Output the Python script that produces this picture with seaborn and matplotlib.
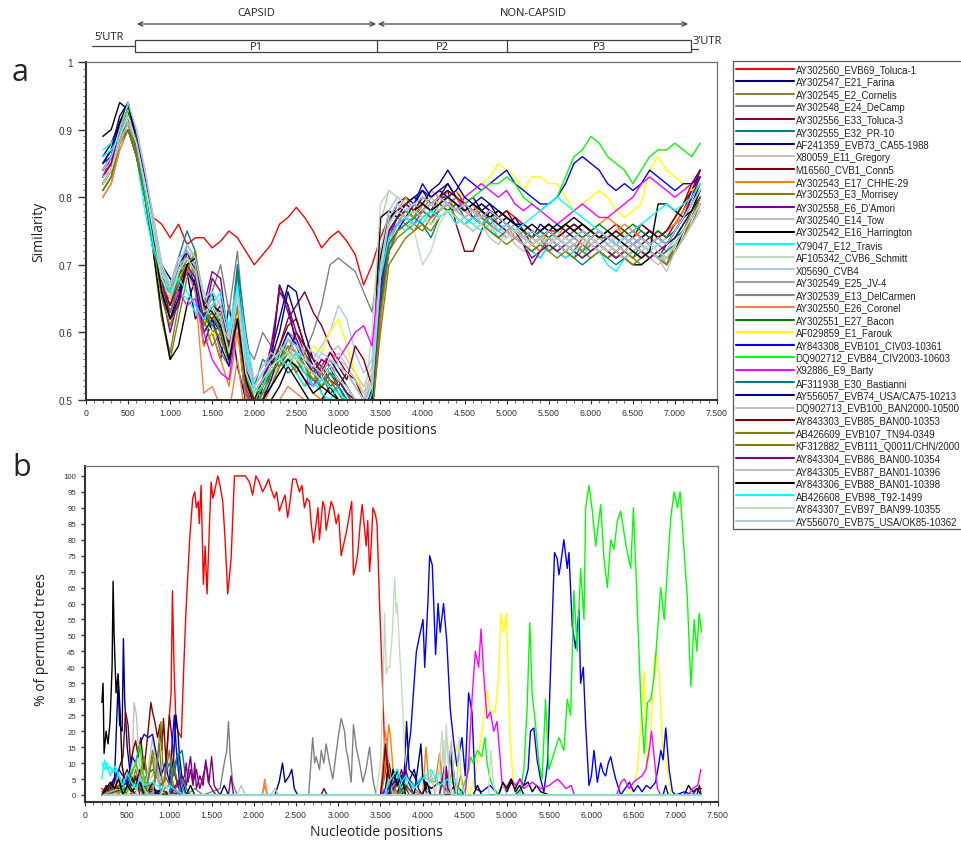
import pandas as pd
import matplotlib
matplotlib.use('Agg')
import matplotlib.pyplot as plt
from matplotlib.lines import Line2D
from matplotlib.patches import Rectangle
from matplotlib.ticker import MultipleLocator, FuncFormatter
import seaborn as sns

# Strains (legend order) and their line colours
strains = [
    'AY302560_EVB69_Toluca-1', 'AY302547_E21_Farina', 'AY302545_E2_Cornelis',
    'AY302548_E24_DeCamp', 'AY302556_E33_Toluca-3', 'AY302555_E32_PR-10',
    'AF241359_EVB73_CA55-1988', 'X80059_E11_Gregory', 'M16560_CVB1_Conn5',
    'AY302543_E17_CHHE-29', 'AY302553_E3_Morrisey', "AY302558_E6_D'Amori",
    'AY302540_E14_Tow', 'AY302542_E16_Harrington', 'X79047_E12_Travis',
    'AF105342_CVB6_Schmitt', 'X05690_CVB4', 'AY302549_E25_JV-4',
    'AY302539_E13_DelCarmen', 'AY302550_E26_Coronel', 'AY302551_E27_Bacon',
    'AF029859_E1_Farouk', 'AY843308_EVB101_CIV03-10361', 'DQ902712_EVB84_CIV2003-10603',
    'X92886_E9_Barty', 'AF311938_E30_Bastianni', 'AY556057_EVB74_USA/CA75-10213',
    'DQ902713_EVB100_BAN2000-10500', 'AY843303_EVB85_BAN00-10353', 'AB426609_EVB107_TN94-0349',
    'KF312882_EVB111_Q0011/CHN/2000', 'AY843304_EVB86_BAN00-10354', 'AY843305_EVB87_BAN01-10396',
    'AY843306_EVB88_BAN01-10398', 'AB426608_EVB98_T92-1499', 'AY843307_EVB97_BAN99-10355',
    'AY556070_EVB75_USA/OK85-10362',
]
colors = [
    '#ff0000', '#000080', '#808040', '#808080', '#800040', '#008080', '#000090',
    '#c0c0c0', '#800000', '#ff8000', '#808000', '#800080', '#c0c0c0', '#000000',
    '#00ffff', '#c0dcc0', '#a6caf0', '#a0a0a4', '#808080', '#f08050', '#008000',
    '#ffff00', '#0000ff', '#00ff00', '#ff00ff', '#008080', '#000080', '#c0c0c0',
    '#800000', '#808000', '#808000', '#800080', '#c0c0c0', '#000000', '#00ffff',
    '#c0dcc0', '#a6caf0',
]

# (a) similarity plot, window centres every 100 nt
positions_a = list(range(200, 7301, 100))
similarity = [
    [0.83, 0.86, 0.91, 0.93, 0.88, 0.83, 0.77, 0.76, 0.74, 0.76,
     0.73, 0.74, 0.74, 0.725, 0.735, 0.75, 0.74, 0.72, 0.70, 0.715,
     0.73, 0.76, 0.77, 0.785, 0.77, 0.75, 0.725, 0.74, 0.75, 0.735,
     0.715, 0.67, 0.70, 0.74, 0.77, 0.78, 0.79, 0.78, 0.79, 0.80,
     0.79, 0.80, 0.81, 0.79, 0.78, 0.79, 0.78, 0.77, 0.78, 0.77,
     0.76, 0.75, 0.74, 0.75, 0.75, 0.74, 0.75, 0.76, 0.75, 0.74,
     0.74, 0.73, 0.74, 0.75, 0.74, 0.75, 0.74, 0.75, 0.76, 0.77,
     0.79, 0.81],
    [0.85, 0.87, 0.91, 0.93, 0.88, 0.82, 0.75, 0.66, 0.65, 0.70,
     0.69, 0.62, 0.64, 0.60, 0.56, 0.64, 0.55, 0.50, 0.49, 0.52,
     0.55, 0.67, 0.64, 0.58, 0.55, 0.54, 0.53, 0.55, 0.52, 0.50,
     0.48, 0.47, 0.52, 0.70, 0.76, 0.78, 0.79, 0.80, 0.81, 0.79,
     0.80, 0.82, 0.80, 0.79, 0.78, 0.79, 0.78, 0.77, 0.76, 0.75,
     0.74, 0.75, 0.74, 0.73, 0.74, 0.73, 0.74, 0.73, 0.74, 0.75,
     0.74, 0.73, 0.74, 0.73, 0.74, 0.75, 0.74, 0.73, 0.75, 0.77,
     0.79, 0.82],
    [0.82, 0.84, 0.89, 0.91, 0.87, 0.80, 0.72, 0.62, 0.57, 0.64,
     0.70, 0.66, 0.60, 0.62, 0.57, 0.55, 0.63, 0.53, 0.49, 0.51,
     0.53, 0.56, 0.58, 0.54, 0.52, 0.55, 0.51, 0.49, 0.50, 0.48,
     0.47, 0.48, 0.50, 0.66, 0.73, 0.75, 0.76, 0.75, 0.77, 0.76,
     0.78, 0.79, 0.78, 0.77, 0.78, 0.76, 0.77, 0.76, 0.75, 0.74,
     0.73, 0.72, 0.73, 0.74, 0.73, 0.72, 0.73, 0.72, 0.74, 0.73,
     0.72, 0.71, 0.72, 0.73, 0.72, 0.71, 0.72, 0.70, 0.72, 0.74,
     0.77, 0.80],
    [0.84, 0.86, 0.90, 0.93, 0.89, 0.83, 0.76, 0.68, 0.66, 0.71,
     0.72, 0.68, 0.62, 0.66, 0.70, 0.63, 0.72, 0.58, 0.56, 0.60,
     0.58, 0.57, 0.60, 0.59, 0.57, 0.60, 0.64, 0.70, 0.71, 0.70,
     0.69, 0.66, 0.63, 0.72, 0.77, 0.78, 0.77, 0.79, 0.78, 0.80,
     0.79, 0.81, 0.80, 0.78, 0.79, 0.77, 0.78, 0.76, 0.77, 0.76,
     0.75, 0.74, 0.75, 0.74, 0.73, 0.74, 0.75, 0.74, 0.73, 0.74,
     0.75, 0.74, 0.73, 0.74, 0.75, 0.74, 0.73, 0.72, 0.74, 0.76,
     0.78, 0.80],
    [0.83, 0.85, 0.90, 0.92, 0.87, 0.81, 0.74, 0.67, 0.64, 0.68,
     0.71, 0.69, 0.63, 0.61, 0.62, 0.57, 0.66, 0.52, 0.50, 0.52,
     0.55, 0.58, 0.62, 0.64, 0.66, 0.63, 0.61, 0.58, 0.56, 0.54,
     0.52, 0.50, 0.52, 0.68, 0.75, 0.77, 0.78, 0.77, 0.79, 0.78,
     0.80, 0.80, 0.79, 0.78, 0.79, 0.78, 0.77, 0.78, 0.77, 0.76,
     0.75, 0.73, 0.74, 0.75, 0.74, 0.73, 0.72, 0.74, 0.73, 0.74,
     0.73, 0.72, 0.73, 0.74, 0.73, 0.74, 0.75, 0.74, 0.76, 0.78,
     0.81, 0.84],
    [0.84, 0.86, 0.89, 0.92, 0.88, 0.82, 0.75, 0.68, 0.67, 0.71,
     0.75, 0.72, 0.62, 0.60, 0.61, 0.58, 0.70, 0.60, 0.52, 0.56,
     0.55, 0.56, 0.54, 0.55, 0.53, 0.52, 0.54, 0.51, 0.52, 0.50,
     0.49, 0.47, 0.48, 0.64, 0.74, 0.76, 0.77, 0.76, 0.78, 0.77,
     0.79, 0.78, 0.79, 0.77, 0.78, 0.77, 0.76, 0.75, 0.76, 0.75,
     0.74, 0.73, 0.74, 0.72, 0.73, 0.72, 0.71, 0.73, 0.72, 0.73,
     0.72, 0.71, 0.72, 0.71, 0.73, 0.72, 0.71, 0.72, 0.74, 0.75,
     0.77, 0.80],
    [0.86, 0.88, 0.91, 0.94, 0.89, 0.83, 0.76, 0.70, 0.68, 0.66,
     0.70, 0.67, 0.58, 0.62, 0.60, 0.55, 0.62, 0.49, 0.47, 0.52,
     0.57, 0.62, 0.67, 0.66, 0.60, 0.56, 0.54, 0.52, 0.53, 0.51,
     0.49, 0.48, 0.50, 0.69, 0.76, 0.79, 0.80, 0.79, 0.81, 0.80,
     0.81, 0.82, 0.80, 0.79, 0.80, 0.78, 0.79, 0.77, 0.76, 0.77,
     0.75, 0.74, 0.76, 0.75, 0.74, 0.75, 0.76, 0.75, 0.74, 0.75,
     0.74, 0.75, 0.74, 0.73, 0.74, 0.75, 0.74, 0.73, 0.75, 0.77,
     0.79, 0.81],
    [0.84, 0.85, 0.88, 0.92, 0.90, 0.84, 0.77, 0.70, 0.66, 0.69,
     0.72, 0.70, 0.64, 0.63, 0.60, 0.58, 0.66, 0.56, 0.52, 0.54,
     0.56, 0.57, 0.58, 0.56, 0.58, 0.56, 0.55, 0.57, 0.58, 0.56,
     0.54, 0.52, 0.55, 0.76, 0.81, 0.80, 0.79, 0.78, 0.79, 0.80,
     0.79, 0.78, 0.80, 0.79, 0.77, 0.78, 0.76, 0.77, 0.76, 0.75,
     0.74, 0.75, 0.74, 0.73, 0.75, 0.74, 0.73, 0.74, 0.73, 0.74,
     0.75, 0.73, 0.74, 0.73, 0.72, 0.73, 0.72, 0.71, 0.73, 0.75,
     0.77, 0.79],
    [0.83, 0.85, 0.89, 0.92, 0.87, 0.81, 0.74, 0.66, 0.65, 0.69,
     0.70, 0.68, 0.61, 0.64, 0.63, 0.57, 0.63, 0.51, 0.48, 0.50,
     0.54, 0.56, 0.57, 0.60, 0.58, 0.56, 0.55, 0.53, 0.52, 0.54,
     0.53, 0.50, 0.52, 0.70, 0.78, 0.77, 0.79, 0.78, 0.80, 0.79,
     0.80, 0.81, 0.76, 0.72, 0.72, 0.75, 0.78, 0.77, 0.78, 0.76,
     0.75, 0.74, 0.75, 0.76, 0.75, 0.76, 0.75, 0.76, 0.75, 0.74,
     0.75, 0.76, 0.75, 0.74, 0.76, 0.75, 0.74, 0.75, 0.77, 0.79,
     0.81, 0.83],
    [0.80, 0.82, 0.87, 0.90, 0.86, 0.80, 0.73, 0.67, 0.65, 0.68,
     0.70, 0.66, 0.58, 0.60, 0.56, 0.52, 0.60, 0.50, 0.47, 0.49,
     0.52, 0.55, 0.57, 0.55, 0.53, 0.51, 0.50, 0.52, 0.50, 0.49,
     0.48, 0.46, 0.49, 0.66, 0.76, 0.78, 0.80, 0.78, 0.79, 0.81,
     0.80, 0.79, 0.80, 0.78, 0.79, 0.77, 0.76, 0.75, 0.76, 0.74,
     0.75, 0.74, 0.73, 0.75, 0.74, 0.76, 0.75, 0.74, 0.75, 0.76,
     0.77, 0.76, 0.74, 0.75, 0.74, 0.73, 0.74, 0.75, 0.76, 0.78,
     0.80, 0.82],
    [0.81, 0.83, 0.88, 0.91, 0.86, 0.80, 0.72, 0.62, 0.56, 0.62,
     0.68, 0.70, 0.62, 0.58, 0.60, 0.55, 0.64, 0.52, 0.49, 0.51,
     0.53, 0.55, 0.58, 0.57, 0.55, 0.52, 0.53, 0.54, 0.52, 0.50,
     0.49, 0.47, 0.48, 0.62, 0.72, 0.74, 0.75, 0.76, 0.75, 0.77,
     0.78, 0.79, 0.77, 0.76, 0.77, 0.76, 0.75, 0.74, 0.75, 0.74,
     0.73, 0.72, 0.71, 0.73, 0.72, 0.71, 0.72, 0.71, 0.72, 0.73,
     0.72, 0.71, 0.72, 0.71, 0.70, 0.71, 0.72, 0.70, 0.72, 0.74,
     0.77, 0.80],
    [0.82, 0.84, 0.90, 0.93, 0.88, 0.82, 0.75, 0.66, 0.60, 0.65,
     0.72, 0.70, 0.64, 0.69, 0.68, 0.58, 0.64, 0.53, 0.50, 0.53,
     0.58, 0.66, 0.64, 0.60, 0.57, 0.55, 0.53, 0.55, 0.52, 0.50,
     0.48, 0.46, 0.49, 0.65, 0.74, 0.77, 0.78, 0.77, 0.79, 0.78,
     0.80, 0.79, 0.78, 0.79, 0.78, 0.77, 0.78, 0.77, 0.76, 0.75,
     0.73, 0.71, 0.72, 0.74, 0.73, 0.72, 0.73, 0.72, 0.73, 0.72,
     0.71, 0.72, 0.73, 0.72, 0.73, 0.72, 0.71, 0.73, 0.75, 0.77,
     0.80, 0.84],
    [0.83, 0.85, 0.89, 0.93, 0.89, 0.83, 0.76, 0.69, 0.66, 0.70,
     0.71, 0.69, 0.63, 0.64, 0.62, 0.59, 0.67, 0.55, 0.51, 0.53,
     0.55, 0.54, 0.56, 0.57, 0.55, 0.53, 0.55, 0.54, 0.56, 0.55,
     0.53, 0.51, 0.54, 0.72, 0.78, 0.77, 0.78, 0.79, 0.78, 0.77,
     0.78, 0.79, 0.78, 0.77, 0.76, 0.77, 0.75, 0.76, 0.74, 0.75,
     0.74, 0.73, 0.74, 0.75, 0.74, 0.73, 0.74, 0.73, 0.72, 0.73,
     0.74, 0.73, 0.72, 0.73, 0.72, 0.71, 0.72, 0.70, 0.72, 0.74,
     0.76, 0.78],
    [0.89, 0.90, 0.94, 0.93, 0.87, 0.80, 0.72, 0.63, 0.56, 0.58,
     0.64, 0.68, 0.64, 0.66, 0.60, 0.55, 0.63, 0.57, 0.48, 0.47,
     0.50, 0.52, 0.55, 0.53, 0.51, 0.49, 0.50, 0.52, 0.50, 0.48,
     0.46, 0.45, 0.52, 0.77, 0.78, 0.77, 0.78, 0.77, 0.79, 0.78,
     0.79, 0.80, 0.79, 0.78, 0.77, 0.78, 0.77, 0.76, 0.77, 0.76,
     0.75, 0.74, 0.75, 0.76, 0.75, 0.76, 0.77, 0.76, 0.75, 0.74,
     0.73, 0.72, 0.71, 0.70, 0.70, 0.71, 0.72, 0.71, 0.72, 0.75,
     0.77, 0.79],
    [0.87, 0.88, 0.90, 0.91, 0.86, 0.78, 0.72, 0.69, 0.67, 0.66,
     0.65, 0.63, 0.62, 0.66, 0.64, 0.61, 0.66, 0.58, 0.52, 0.50,
     0.53, 0.55, 0.57, 0.54, 0.52, 0.53, 0.51, 0.50, 0.52, 0.49,
     0.48, 0.47, 0.50, 0.67, 0.74, 0.76, 0.75, 0.77, 0.76, 0.78,
     0.77, 0.78, 0.76, 0.77, 0.76, 0.75, 0.76, 0.74, 0.75, 0.74,
     0.73, 0.72, 0.71, 0.73, 0.72, 0.71, 0.72, 0.71, 0.73, 0.72,
     0.70, 0.69, 0.71, 0.72, 0.71, 0.72, 0.73, 0.74, 0.75, 0.77,
     0.79, 0.81],
    [0.82, 0.84, 0.88, 0.92, 0.88, 0.82, 0.75, 0.68, 0.65, 0.69,
     0.70, 0.68, 0.62, 0.63, 0.61, 0.56, 0.64, 0.53, 0.50, 0.52,
     0.54, 0.55, 0.56, 0.55, 0.54, 0.53, 0.52, 0.54, 0.52, 0.51,
     0.50, 0.49, 0.60, 0.79, 0.81, 0.80, 0.79, 0.75, 0.70, 0.72,
     0.76, 0.78, 0.79, 0.78, 0.77, 0.76, 0.75, 0.74, 0.75, 0.74,
     0.73, 0.74, 0.73, 0.72, 0.73, 0.74, 0.73, 0.72, 0.73, 0.74,
     0.73, 0.72, 0.73, 0.72, 0.73, 0.72, 0.71, 0.72, 0.74, 0.76,
     0.78, 0.80],
    [0.84, 0.86, 0.90, 0.93, 0.90, 0.84, 0.77, 0.70, 0.67, 0.70,
     0.72, 0.71, 0.66, 0.63, 0.65, 0.60, 0.68, 0.59, 0.53, 0.55,
     0.56, 0.58, 0.57, 0.59, 0.57, 0.56, 0.58, 0.60, 0.64, 0.62,
     0.57, 0.54, 0.56, 0.70, 0.77, 0.78, 0.77, 0.78, 0.79, 0.78,
     0.79, 0.80, 0.79, 0.78, 0.77, 0.78, 0.77, 0.76, 0.75, 0.76,
     0.75, 0.74, 0.75, 0.74, 0.75, 0.74, 0.73, 0.74, 0.75, 0.74,
     0.73, 0.74, 0.73, 0.74, 0.73, 0.72, 0.73, 0.74, 0.75, 0.77,
     0.79, 0.81],
    [0.83, 0.85, 0.89, 0.92, 0.89, 0.82, 0.75, 0.68, 0.65, 0.69,
     0.71, 0.70, 0.63, 0.65, 0.62, 0.57, 0.65, 0.56, 0.51, 0.53,
     0.55, 0.57, 0.59, 0.57, 0.55, 0.54, 0.56, 0.55, 0.54, 0.52,
     0.50, 0.49, 0.51, 0.69, 0.76, 0.78, 0.79, 0.78, 0.79, 0.80,
     0.79, 0.78, 0.79, 0.78, 0.77, 0.76, 0.77, 0.76, 0.75, 0.76,
     0.74, 0.73, 0.74, 0.73, 0.74, 0.73, 0.74, 0.73, 0.72, 0.73,
     0.72, 0.73, 0.72, 0.73, 0.72, 0.71, 0.72, 0.71, 0.73, 0.75,
     0.77, 0.79],
    [0.82, 0.84, 0.89, 0.92, 0.88, 0.81, 0.74, 0.67, 0.64, 0.68,
     0.70, 0.68, 0.61, 0.63, 0.60, 0.56, 0.64, 0.53, 0.50, 0.52,
     0.54, 0.56, 0.57, 0.56, 0.54, 0.52, 0.54, 0.53, 0.51, 0.50,
     0.48, 0.47, 0.50, 0.68, 0.75, 0.77, 0.76, 0.77, 0.78, 0.77,
     0.78, 0.79, 0.80, 0.78, 0.77, 0.78, 0.76, 0.75, 0.76, 0.75,
     0.74, 0.73, 0.72, 0.74, 0.73, 0.72, 0.73, 0.72, 0.73, 0.72,
     0.71, 0.72, 0.71, 0.72, 0.71, 0.72, 0.71, 0.70, 0.72, 0.74,
     0.76, 0.79],
    [0.80, 0.82, 0.87, 0.90, 0.86, 0.80, 0.73, 0.66, 0.63, 0.67,
     0.69, 0.66, 0.51, 0.52, 0.49, 0.48, 0.56, 0.47, 0.45, 0.46,
     0.48, 0.50, 0.52, 0.51, 0.50, 0.49, 0.48, 0.50, 0.48, 0.47,
     0.46, 0.45, 0.47, 0.62, 0.73, 0.76, 0.78, 0.77, 0.79, 0.78,
     0.79, 0.80, 0.78, 0.77, 0.78, 0.77, 0.76, 0.75, 0.74, 0.75,
     0.74, 0.73, 0.72, 0.73, 0.74, 0.73, 0.74, 0.73, 0.74, 0.75,
     0.74, 0.75, 0.76, 0.75, 0.74, 0.73, 0.74, 0.75, 0.76, 0.77,
     0.79, 0.81],
    [0.81, 0.83, 0.88, 0.91, 0.87, 0.81, 0.74, 0.67, 0.66, 0.70,
     0.71, 0.69, 0.62, 0.61, 0.63, 0.58, 0.65, 0.54, 0.50, 0.52,
     0.54, 0.56, 0.59, 0.58, 0.56, 0.54, 0.53, 0.55, 0.53, 0.51,
     0.49, 0.48, 0.50, 0.66, 0.74, 0.76, 0.77, 0.78, 0.77, 0.78,
     0.79, 0.78, 0.79, 0.78, 0.79, 0.78, 0.77, 0.78, 0.77, 0.76,
     0.75, 0.74, 0.75, 0.74, 0.75, 0.76, 0.75, 0.74, 0.75, 0.76,
     0.75, 0.74, 0.75, 0.76, 0.75, 0.74, 0.75, 0.74, 0.75, 0.77,
     0.80, 0.82],
    [0.83, 0.85, 0.88, 0.91, 0.87, 0.80, 0.73, 0.67, 0.64, 0.68,
     0.70, 0.68, 0.62, 0.60, 0.59, 0.55, 0.63, 0.52, 0.49, 0.51,
     0.53, 0.55, 0.57, 0.55, 0.56, 0.58, 0.57, 0.60, 0.62, 0.58,
     0.54, 0.51, 0.53, 0.68, 0.76, 0.78, 0.77, 0.78, 0.79, 0.80,
     0.79, 0.80, 0.81, 0.80, 0.81, 0.82, 0.83, 0.85, 0.84, 0.83,
     0.81, 0.83, 0.83, 0.82, 0.82, 0.80, 0.78, 0.79, 0.80, 0.81,
     0.80, 0.78, 0.77, 0.78, 0.79, 0.84, 0.86, 0.84, 0.83, 0.82,
     0.81, 0.82],
    [0.85, 0.86, 0.88, 0.90, 0.86, 0.80, 0.73, 0.66, 0.62, 0.66,
     0.69, 0.67, 0.60, 0.62, 0.58, 0.55, 0.62, 0.52, 0.48, 0.50,
     0.53, 0.57, 0.60, 0.58, 0.56, 0.55, 0.53, 0.55, 0.53, 0.51,
     0.49, 0.47, 0.49, 0.64, 0.72, 0.75, 0.77, 0.79, 0.82, 0.80,
     0.81, 0.80, 0.81, 0.83, 0.82, 0.81, 0.82, 0.83, 0.84, 0.82,
     0.81, 0.80, 0.79, 0.79, 0.80, 0.82, 0.85, 0.86, 0.85, 0.84,
     0.82, 0.81, 0.82, 0.81, 0.82, 0.84, 0.83, 0.82, 0.81, 0.82,
     0.82, 0.83],
    [0.84, 0.86, 0.90, 0.93, 0.89, 0.83, 0.77, 0.70, 0.66, 0.69,
     0.71, 0.69, 0.63, 0.64, 0.61, 0.57, 0.65, 0.54, 0.50, 0.52,
     0.55, 0.57, 0.59, 0.58, 0.56, 0.54, 0.55, 0.54, 0.53, 0.51,
     0.49, 0.48, 0.50, 0.67, 0.75, 0.77, 0.78, 0.77, 0.78, 0.79,
     0.78, 0.79, 0.78, 0.79, 0.80, 0.81, 0.82, 0.82, 0.83, 0.82,
     0.80, 0.79, 0.78, 0.79, 0.80, 0.83, 0.86, 0.87, 0.89, 0.88,
     0.86, 0.85, 0.84, 0.82, 0.84, 0.86, 0.87, 0.87, 0.88, 0.87,
     0.86, 0.88],
    [0.83, 0.85, 0.89, 0.92, 0.87, 0.81, 0.74, 0.67, 0.63, 0.66,
     0.64, 0.65, 0.60, 0.56, 0.54, 0.53, 0.62, 0.52, 0.48, 0.50,
     0.52, 0.54, 0.56, 0.55, 0.53, 0.52, 0.55, 0.57, 0.56, 0.58,
     0.60, 0.61, 0.58, 0.70, 0.75, 0.76, 0.77, 0.76, 0.78, 0.77,
     0.78, 0.79, 0.78, 0.80, 0.81, 0.82, 0.81, 0.80, 0.81, 0.79,
     0.78, 0.79, 0.78, 0.77, 0.76, 0.77, 0.78, 0.79, 0.78, 0.77,
     0.77, 0.78, 0.79, 0.80, 0.82, 0.83, 0.82, 0.81, 0.80, 0.81,
     0.82, 0.84],
    [0.82, 0.84, 0.89, 0.91, 0.87, 0.81, 0.74, 0.67, 0.64, 0.68,
     0.73, 0.71, 0.63, 0.61, 0.62, 0.57, 0.69, 0.56, 0.52, 0.54,
     0.56, 0.55, 0.57, 0.56, 0.54, 0.53, 0.52, 0.54, 0.52, 0.50,
     0.49, 0.48, 0.50, 0.65, 0.73, 0.75, 0.76, 0.77, 0.76, 0.74,
     0.77, 0.78, 0.77, 0.76, 0.77, 0.76, 0.75, 0.74, 0.75, 0.74,
     0.73, 0.72, 0.73, 0.72, 0.73, 0.72, 0.71, 0.70, 0.71, 0.72,
     0.71, 0.70, 0.71, 0.72, 0.71, 0.72, 0.71, 0.72, 0.73, 0.75,
     0.77, 0.79],
    [0.85, 0.87, 0.92, 0.94, 0.88, 0.82, 0.75, 0.68, 0.66, 0.70,
     0.72, 0.69, 0.62, 0.64, 0.63, 0.58, 0.66, 0.55, 0.51, 0.53,
     0.56, 0.60, 0.66, 0.62, 0.58, 0.55, 0.54, 0.56, 0.54, 0.52,
     0.50, 0.49, 0.51, 0.67, 0.75, 0.77, 0.79, 0.80, 0.79, 0.81,
     0.82, 0.84, 0.82, 0.80, 0.79, 0.80, 0.79, 0.78, 0.77, 0.76,
     0.76, 0.75, 0.74, 0.75, 0.76, 0.75, 0.74, 0.75, 0.74, 0.73,
     0.74, 0.73, 0.72, 0.73, 0.74, 0.73, 0.74, 0.73, 0.74, 0.76,
     0.78, 0.80],
    [0.84, 0.86, 0.89, 0.92, 0.89, 0.83, 0.76, 0.69, 0.67, 0.71,
     0.72, 0.70, 0.64, 0.62, 0.63, 0.58, 0.66, 0.55, 0.52, 0.54,
     0.56, 0.58, 0.57, 0.56, 0.58, 0.57, 0.56, 0.55, 0.57, 0.55,
     0.53, 0.51, 0.53, 0.71, 0.78, 0.80, 0.79, 0.78, 0.80, 0.79,
     0.78, 0.80, 0.79, 0.78, 0.77, 0.76, 0.75, 0.76, 0.75, 0.73,
     0.72, 0.73, 0.74, 0.73, 0.74, 0.73, 0.72, 0.73, 0.74, 0.73,
     0.72, 0.71, 0.72, 0.73, 0.72, 0.71, 0.70, 0.71, 0.73, 0.75,
     0.77, 0.79],
    [0.82, 0.84, 0.89, 0.92, 0.88, 0.82, 0.75, 0.67, 0.64, 0.67,
     0.70, 0.71, 0.63, 0.62, 0.64, 0.58, 0.64, 0.53, 0.50, 0.53,
     0.55, 0.58, 0.61, 0.62, 0.58, 0.56, 0.54, 0.57, 0.55, 0.53,
     0.58, 0.56, 0.52, 0.69, 0.77, 0.78, 0.79, 0.78, 0.80, 0.79,
     0.80, 0.81, 0.80, 0.79, 0.78, 0.77, 0.78, 0.77, 0.76, 0.75,
     0.74, 0.75, 0.74, 0.75, 0.74, 0.75, 0.76, 0.75, 0.74, 0.75,
     0.74, 0.75, 0.74, 0.75, 0.76, 0.75, 0.74, 0.75, 0.77, 0.79,
     0.82, 0.84],
    [0.81, 0.83, 0.88, 0.90, 0.86, 0.80, 0.73, 0.65, 0.61, 0.65,
     0.69, 0.72, 0.64, 0.61, 0.59, 0.56, 0.62, 0.51, 0.48, 0.50,
     0.52, 0.55, 0.56, 0.54, 0.57, 0.54, 0.52, 0.53, 0.51, 0.49,
     0.48, 0.46, 0.48, 0.60, 0.70, 0.72, 0.74, 0.75, 0.76, 0.75,
     0.77, 0.78, 0.77, 0.76, 0.75, 0.76, 0.75, 0.74, 0.73, 0.74,
     0.73, 0.72, 0.73, 0.72, 0.71, 0.72, 0.71, 0.72, 0.71, 0.72,
     0.71, 0.72, 0.71, 0.70, 0.71, 0.72, 0.71, 0.70, 0.73, 0.75,
     0.78, 0.81],
    [0.82, 0.84, 0.88, 0.91, 0.87, 0.81, 0.74, 0.67, 0.63, 0.67,
     0.71, 0.70, 0.61, 0.63, 0.60, 0.56, 0.64, 0.53, 0.49, 0.51,
     0.54, 0.56, 0.55, 0.57, 0.55, 0.53, 0.54, 0.52, 0.53, 0.51,
     0.49, 0.47, 0.49, 0.63, 0.72, 0.75, 0.76, 0.77, 0.78, 0.77,
     0.78, 0.79, 0.78, 0.79, 0.78, 0.77, 0.76, 0.77, 0.76, 0.75,
     0.74, 0.73, 0.74, 0.73, 0.72, 0.73, 0.72, 0.73, 0.72, 0.73,
     0.72, 0.71, 0.72, 0.71, 0.72, 0.71, 0.72, 0.71, 0.72, 0.74,
     0.77, 0.80],
    [0.83, 0.85, 0.90, 0.94, 0.89, 0.83, 0.76, 0.68, 0.62, 0.64,
     0.70, 0.68, 0.62, 0.68, 0.66, 0.58, 0.65, 0.54, 0.51, 0.53,
     0.56, 0.67, 0.63, 0.59, 0.56, 0.54, 0.56, 0.55, 0.53, 0.51,
     0.50, 0.48, 0.50, 0.66, 0.75, 0.77, 0.78, 0.79, 0.78, 0.79,
     0.80, 0.79, 0.78, 0.79, 0.77, 0.76, 0.77, 0.76, 0.75, 0.74,
     0.73, 0.70, 0.72, 0.73, 0.72, 0.73, 0.72, 0.71, 0.72, 0.73,
     0.72, 0.71, 0.72, 0.73, 0.72, 0.71, 0.72, 0.73, 0.75, 0.77,
     0.80, 0.83],
    [0.83, 0.84, 0.88, 0.91, 0.88, 0.82, 0.76, 0.69, 0.66, 0.70,
     0.71, 0.70, 0.65, 0.63, 0.61, 0.59, 0.66, 0.56, 0.53, 0.55,
     0.57, 0.56, 0.55, 0.57, 0.56, 0.55, 0.54, 0.56, 0.55, 0.54,
     0.52, 0.50, 0.52, 0.70, 0.77, 0.79, 0.78, 0.79, 0.78, 0.79,
     0.78, 0.79, 0.78, 0.77, 0.78, 0.76, 0.74, 0.73, 0.75, 0.74,
     0.73, 0.74, 0.73, 0.74, 0.73, 0.72, 0.73, 0.74, 0.73, 0.72,
     0.73, 0.72, 0.71, 0.72, 0.71, 0.72, 0.71, 0.69, 0.72, 0.74,
     0.76, 0.78],
    [0.84, 0.86, 0.91, 0.94, 0.88, 0.81, 0.74, 0.66, 0.62, 0.65,
     0.70, 0.71, 0.64, 0.63, 0.61, 0.56, 0.62, 0.53, 0.49, 0.50,
     0.52, 0.54, 0.56, 0.55, 0.53, 0.51, 0.52, 0.51, 0.50, 0.48,
     0.47, 0.46, 0.50, 0.71, 0.77, 0.78, 0.77, 0.78, 0.79, 0.78,
     0.79, 0.80, 0.79, 0.78, 0.79, 0.78, 0.77, 0.78, 0.77, 0.76,
     0.75, 0.76, 0.75, 0.76, 0.75, 0.76, 0.75, 0.76, 0.75, 0.74,
     0.75, 0.74, 0.73, 0.72, 0.71, 0.72, 0.79, 0.79, 0.78, 0.77,
     0.78, 0.81],
    [0.86, 0.87, 0.89, 0.92, 0.88, 0.81, 0.73, 0.68, 0.66, 0.68,
     0.66, 0.64, 0.62, 0.64, 0.66, 0.60, 0.67, 0.57, 0.51, 0.52,
     0.55, 0.56, 0.55, 0.57, 0.54, 0.52, 0.53, 0.52, 0.51, 0.50,
     0.49, 0.48, 0.51, 0.68, 0.74, 0.76, 0.77, 0.76, 0.77, 0.78,
     0.77, 0.78, 0.77, 0.76, 0.77, 0.76, 0.77, 0.75, 0.76, 0.75,
     0.76, 0.77, 0.78, 0.79, 0.80, 0.79, 0.78, 0.77, 0.76, 0.75,
     0.74, 0.73, 0.74, 0.75, 0.76, 0.77, 0.78, 0.79, 0.78, 0.79,
     0.80, 0.82],
    [0.82, 0.84, 0.89, 0.92, 0.88, 0.82, 0.75, 0.68, 0.65, 0.69,
     0.71, 0.69, 0.63, 0.64, 0.62, 0.57, 0.65, 0.54, 0.51, 0.53,
     0.55, 0.56, 0.57, 0.56, 0.55, 0.54, 0.53, 0.55, 0.53, 0.52,
     0.50, 0.49, 0.52, 0.69, 0.76, 0.78, 0.77, 0.78, 0.77, 0.76,
     0.77, 0.78, 0.77, 0.76, 0.75, 0.76, 0.74, 0.73, 0.74, 0.75,
     0.74, 0.73, 0.74, 0.73, 0.74, 0.73, 0.72, 0.73, 0.74, 0.73,
     0.72, 0.73, 0.72, 0.73, 0.72, 0.73, 0.72, 0.71, 0.73, 0.75,
     0.77, 0.79],
    [0.84, 0.86, 0.90, 0.94, 0.90, 0.84, 0.77, 0.70, 0.67, 0.70,
     0.73, 0.71, 0.65, 0.66, 0.64, 0.59, 0.66, 0.56, 0.52, 0.54,
     0.56, 0.57, 0.59, 0.58, 0.56, 0.55, 0.57, 0.56, 0.55, 0.54,
     0.52, 0.50, 0.53, 0.70, 0.77, 0.79, 0.78, 0.79, 0.80, 0.79,
     0.80, 0.79, 0.78, 0.79, 0.78, 0.77, 0.78, 0.77, 0.76, 0.75,
     0.74, 0.75, 0.74, 0.75, 0.74, 0.73, 0.74, 0.75, 0.74, 0.75,
     0.74, 0.73, 0.74, 0.73, 0.74, 0.73, 0.74, 0.73, 0.75, 0.77,
     0.79, 0.81],
]

# (b) bootscan, (position, % of permuted trees)
permuted = [
    [(200, 2), (300, 0), (400, 3), (500, 0), (600, 1), (700, 4), (800, 2), (900, 0), (950, 5),
     (1000, 25), (1020, 32), (1036, 64), (1055, 40), (1078, 22), (1100, 20), (1141, 18),
     (1170, 40), (1197, 58), (1240, 80), (1276, 93), (1300, 95), (1320, 90), (1340, 92),
     (1355, 85), (1375, 97), (1403, 66), (1423, 78), (1446, 63), (1474, 84), (1494, 98),
     (1515, 93), (1534, 95), (1573, 100), (1600, 97), (1632, 92), (1660, 80), (1691, 63),
     (1731, 74), (1771, 100), (1800, 100), (1850, 100), (1900, 100), (1950, 98), (1985, 94),
     (2025, 100), (2065, 98), (2104, 95), (2144, 97), (2175, 99), (2203, 96), (2243, 93),
     (2270, 95), (2302, 89), (2342, 92), (2370, 94), (2401, 87), (2430, 92), (2461, 99),
     (2500, 99), (2540, 95), (2570, 97), (2600, 90), (2630, 93), (2659, 92), (2680, 85),
     (2706, 79), (2738, 85), (2760, 90), (2778, 80), (2817, 92), (2840, 90), (2857, 83),
     (2890, 88), (2916, 92), (2945, 90), (2976, 85), (3005, 88), (3035, 75), (3060, 78),
     (3094, 82), (3134, 88), (3160, 92), (3181, 69), (3210, 72), (3233, 76), (3260, 85),
     (3284, 91), (3310, 84), (3332, 78), (3350, 86), (3372, 70), (3395, 80), (3411, 90),
     (3440, 88), (3460, 85), (3490, 60), (3518, 40), (3550, 15), (3575, 6), (3600, 2),
     (3650, 0), (7300, 0)],
    [(200, 0), (300, 2), (350, 5), (392, 35), (410, 22), (440, 20), (455, 49), (470, 30),
     (500, 15), (530, 8), (560, 3), (600, 5), (700, 2), (800, 0), (1000, 3), (1050, 12),
     (1078, 25), (1100, 20), (1120, 12), (1150, 5), (1200, 0), (2250, 0), (2300, 4),
     (2340, 10), (2370, 4), (2420, 6), (2450, 8), (2480, 2), (2520, 0), (3760, 0), (3790, 10),
     (3810, 23), (3840, 8), (3900, 6), (3950, 3), (4000, 6), (4050, 2), (4100, 0), (6850, 0),
     (6880, 3), (6910, 0), (7300, 0)],
    [(200, 1), (300, 3), (400, 0), (500, 6), (550, 2), (600, 8), (650, 3), (700, 10), (750, 4),
     (800, 2), (850, 8), (880, 3), (900, 0), (3500, 0), (3600, 3), (3700, 1), (3800, 5),
     (3900, 2), (4000, 0), (7300, 0)],
    [(200, 0), (1200, 0), (1300, 2), (1400, 0), (1600, 2), (1650, 10), (1680, 14), (1700, 23),
     (1720, 12), (1750, 4), (1800, 0), (2650, 0), (2698, 18), (2720, 10), (2738, 12), (2778, 8),
     (2800, 14), (2830, 10), (2857, 16), (2896, 10), (2936, 5), (2970, 12), (3000, 18),
     (3035, 24), (3075, 20), (3095, 14), (3114, 12), (3154, 4), (3181, 22), (3213, 15),
     (3253, 10), (3292, 4), (3330, 8), (3372, 15), (3411, 5), (3450, 0), (3600, 0), (3650, 3),
     (3700, 0), (7300, 0)],
    [(200, 0), (350, 2), (400, 6), (450, 3), (500, 0), (1000, 0), (1050, 8), (1100, 3),
     (1150, 0), (3550, 0), (3600, 5), (3650, 2), (3700, 0), (7300, 0)],
    [(200, 0), (600, 2), (700, 5), (800, 8), (900, 3), (1000, 10), (1050, 6), (1100, 12),
     (1150, 14), (1180, 8), (1200, 2), (1250, 0), (3550, 0), (3620, 4), (3700, 0), (7300, 0)],
    [(200, 0), (600, 3), (650, 8), (700, 2), (1200, 0), (3700, 0), (3750, 6), (3800, 2),
     (3900, 8), (3950, 2), (4000, 0), (4250, 0), (4300, 6), (4340, 14), (4380, 4), (4420, 0),
     (7300, 0)],
    [(200, 0), (500, 2), (560, 10), (582, 29), (610, 25), (640, 10), (700, 3), (800, 6),
     (850, 12), (900, 4), (1000, 8), (1050, 2), (1100, 0), (3500, 0), (3560, 10), (3600, 4),
     (3700, 0), (4200, 0), (4248, 17), (4270, 0), (7300, 0)],
    [(200, 0), (250, 3), (300, 1), (350, 4), (400, 8), (450, 12), (480, 26), (510, 22),
     (540, 10), (570, 14), (600, 17), (630, 12), (660, 18), (700, 8), (740, 18), (781, 29),
     (800, 26), (827, 23), (860, 18), (886, 22), (910, 14), (930, 24), (960, 10), (1000, 25),
     (1030, 18), (1060, 8), (1100, 3), (1150, 0), (2800, 0), (2830, 2), (2870, 0), (3500, 0),
     (3550, 6), (3580, 12), (3610, 4), (3650, 0), (7300, 0)],
    [(200, 0), (600, 2), (700, 6), (750, 2), (800, 0), (2100, 0), (2130, 3), (2160, 0),
     (3500, 0), (3540, 5), (3570, 12), (3600, 22), (3620, 18), (3650, 8), (3700, 3), (3750, 6),
     (3800, 2), (4000, 0), (4040, 15), (4070, 5), (4150, 4), (4200, 13), (4230, 5), (4260, 0),
     (7300, 0)],
    [(200, 0), (400, 2), (500, 4), (600, 10), (650, 6), (700, 12), (750, 5), (800, 14),
     (850, 8), (880, 18), (900, 23), (920, 10), (950, 6), (1000, 3), (1050, 9), (1100, 4),
     (1150, 0), (3600, 0), (3650, 4), (3700, 0), (4300, 0), (4350, 8), (4380, 0), (7300, 0)],
    [(200, 0), (400, 3), (500, 5), (600, 2), (1000, 0), (1100, 3), (1180, 6), (1200, 10),
     (1220, 4), (1250, 8), (1280, 3), (1300, 10), (1320, 2), (1360, 6), (1400, 3), (1430, 11),
     (1460, 4), (1500, 2), (1550, 0), (1700, 0), (1730, 6), (1760, 0), (3600, 0), (3650, 6),
     (3700, 3), (3750, 8), (3800, 2), (3850, 0), (4250, 0), (4280, 9), (4310, 0), (7300, 0)],
    [(200, 0), (700, 0), (750, 8), (800, 18), (830, 12), (860, 5), (900, 0), (7300, 0)],
    [(200, 29), (214, 35), (226, 13), (250, 20), (273, 16), (297, 23), (321, 40), (333, 67),
     (345, 50), (368, 32), (392, 38), (416, 26), (440, 9), (470, 5), (500, 3), (550, 6),
     (600, 2), (650, 4), (700, 3), (750, 1), (800, 4), (850, 0), (900, 2), (1000, 0),
     (1050, 3), (1100, 0), (3550, 0), (3600, 10), (3650, 3), (3700, 8), (3750, 2), (3800, 6),
     (3900, 3), (4000, 5), (4100, 2), (4200, 4), (4300, 1), (4400, 3), (4500, 0), (4900, 0),
     (4950, 3), (5000, 1), (5050, 4), (5100, 2), (5150, 5), (5200, 3), (5250, 4), (5300, 1),
     (5350, 3), (5400, 1), (5500, 0), (7100, 0), (7150, 3), (7200, 1), (7250, 2), (7300, 0)],
    [(200, 5), (230, 11), (260, 8), (300, 9), (330, 7), (360, 8), (400, 4), (450, 2),
     (500, 5), (600, 3), (700, 0), (3550, 0), (3650, 3), (3700, 6), (3750, 2), (3800, 5),
     (3900, 3), (4000, 6), (4100, 4), (4200, 7), (4300, 3), (4400, 5), (4450, 0), (7300, 0)],
    [(200, 0), (500, 0), (600, 2), (700, 0), (3450, 0), (3500, 10), (3530, 30), (3550, 57),
     (3570, 38), (3590, 40), (3610, 40), (3640, 50), (3669, 68), (3688, 57), (3700, 60),
     (3728, 45), (3750, 35), (3767, 25), (3790, 12), (3820, 4), (3850, 0), (4150, 0),
     (4200, 10), (4230, 20), (4260, 8), (4290, 18), (4320, 5), (4350, 0), (7300, 0)],
    [(200, 0), (900, 0), (950, 3), (1000, 0), (3700, 0), (3750, 2), (3800, 0), (7300, 0)],
    [(200, 0), (500, 0), (550, 4), (600, 2), (800, 0), (850, 10), (880, 4), (900, 0),
     (3600, 0), (3700, 4), (3800, 0), (4200, 0), (4250, 5), (4300, 0), (7300, 0)],
    [(200, 0), (1100, 0), (1150, 5), (1200, 2), (1250, 0), (3600, 0), (3650, 3), (3700, 0),
     (7300, 0)],
    [(200, 0), (2100, 0), (2130, 5), (2160, 0), (3500, 0), (3530, 10), (3560, 20), (3580, 15),
     (3600, 8), (3650, 3), (3700, 0), (7300, 0)],
    [(200, 0), (500, 2), (600, 5), (650, 2), (700, 0), (3700, 0), (3800, 3), (3900, 0),
     (7300, 0)],
    [(200, 0), (500, 0), (550, 3), (600, 0), (4300, 0), (4350, 6), (4406, 16), (4430, 8),
     (4466, 5), (4500, 3), (4550, 0), (4600, 4), (4650, 10), (4704, 20), (4740, 28), (4763, 33),
     (4803, 26), (4862, 26), (4902, 38), (4929, 57), (4961, 51), (4993, 57), (5032, 20),
     (5072, 5), (5100, 0), (6450, 0), (6500, 3), (6545, 8), (6580, 20), (6625, 39), (6656, 8),
     (6704, 19), (6740, 40), (6763, 45), (6803, 38), (6842, 16), (6870, 12), (6901, 8),
     (6941, 0), (7300, 0)],
    [(200, 0), (300, 3), (400, 8), (450, 6), (500, 4), (560, 12), (600, 10), (650, 16),
     (700, 19), (750, 18), (800, 19), (850, 12), (900, 6), (950, 10), (1000, 4), (1058, 25),
     (1080, 15), (1120, 4), (1160, 0), (3500, 0), (3600, 2), (3700, 5), (3780, 4), (3820, 12),
     (3860, 20), (3886, 30), (3926, 45), (3965, 50), (4005, 55), (4025, 40), (4064, 61),
     (4084, 75), (4115, 72), (4154, 44), (4183, 60), (4208, 51), (4248, 60), (4287, 48),
     (4327, 27), (4367, 17), (4406, 9), (4466, 18), (4505, 6), (4545, 32), (4585, 26),
     (4625, 2), (4700, 1), (4800, 3), (4900, 0), (5100, 0), (5200, 3), (5250, 8), (5278, 20),
     (5318, 21), (5357, 11), (5397, 5), (5437, 1), (5480, 10), (5516, 39), (5563, 76),
     (5595, 74), (5615, 69), (5634, 72), (5674, 80), (5714, 71), (5734, 76), (5773, 53),
     (5813, 46), (5853, 58), (5872, 35), (5904, 40), (5932, 22), (5971, 3), (6000, 6),
     (6031, 14), (6070, 4), (6110, 10), (6140, 7), (6169, 6), (6200, 10), (6229, 12),
     (6260, 8), (6288, 5), (6347, 0), (6400, 2), (6450, 4), (6500, 1), (6550, 3), (6600, 1),
     (6650, 3), (6700, 2), (6760, 4), (6800, 10), (6822, 14), (6850, 11), (6881, 21),
     (6921, 8), (6960, 1), (7000, 0), (7100, 1), (7200, 0), (7250, 2), (7300, 2)],
    [(200, 0), (400, 2), (500, 1), (550, 6), (600, 10), (650, 16), (680, 8), (720, 3),
     (760, 0), (4450, 0), (4500, 4), (4550, 8), (4567, 12), (4600, 10), (4650, 14), (4700, 12),
     (4740, 18), (4764, 10), (4800, 5), (4850, 2), (4900, 0), (5150, 0), (5200, 8), (5238, 27),
     (5270, 54), (5298, 32), (5338, 22), (5377, 10), (5417, 5), (5457, 30), (5496, 8),
     (5556, 13), (5615, 18), (5674, 14), (5714, 30), (5754, 25), (5793, 64), (5833, 45),
     (5872, 71), (5912, 55), (5932, 90), (5971, 97), (6011, 89), (6051, 78), (6110, 91),
     (6149, 74), (6189, 65), (6229, 80), (6268, 77), (6308, 86), (6347, 89), (6387, 82),
     (6426, 76), (6466, 71), (6498, 90), (6545, 58), (6585, 30), (6625, 13), (6664, 29),
     (6704, 30), (6743, 37), (6783, 51), (6822, 65), (6862, 55), (6901, 71), (6941, 87),
     (6980, 95), (7020, 90), (7051, 95), (7099, 76), (7138, 61), (7178, 34), (7218, 55),
     (7249, 45), (7277, 57), (7305, 51)],
    [(200, 0), (1000, 0), (1050, 3), (1100, 0), (3500, 0), (3550, 2), (3600, 0), (4500, 0),
     (4545, 10), (4585, 30), (4625, 45), (4664, 40), (4692, 52), (4724, 38), (4763, 24),
     (4803, 26), (4843, 20), (4882, 23), (4914, 13), (4941, 4), (4980, 2), (5050, 5), (5100, 3),
     (5159, 5), (5200, 2), (5300, 4), (5400, 2), (5500, 3), (5600, 5), (5635, 4), (5700, 2),
     (5760, 3), (5800, 0), (6300, 0), (6350, 4), (6387, 5), (6450, 2), (6500, 4), (6545, 5),
     (6600, 6), (6645, 8), (6685, 14), (6712, 20), (6743, 12), (6783, 2), (6820, 0),
     (7150, 0), (7200, 2), (7260, 3), (7297, 8)],
    [(200, 0), (1000, 0), (1050, 8), (1100, 13), (1130, 6), (1160, 2), (1200, 0), (3600, 0),
     (3700, 3), (3800, 0), (7300, 0)],
    [(200, 0), (400, 2), (500, 4), (600, 0), (1600, 0), (1650, 3), (1700, 0), (3900, 0),
     (3950, 10), (3980, 16), (4000, 6), (4050, 0), (4300, 0), (4330, 14), (4360, 4), (4400, 0),
     (7300, 0)],
    [(200, 0), (400, 2), (500, 0), (1800, 0), (1850, 3), (1900, 0), (2200, 0), (2250, 2),
     (2300, 0), (4300, 0), (4340, 17), (4370, 6), (4400, 0), (4900, 0), (4950, 3), (5000, 0),
     (7300, 0)],
    [(200, 0), (300, 3), (400, 2), (500, 8), (550, 3), (600, 6), (650, 0), (3500, 0),
     (3530, 6), (3560, 16), (3590, 8), (3620, 3), (3650, 0), (7250, 0), (7280, 3), (7300, 0)],
    [(200, 0), (700, 0), (750, 5), (800, 12), (830, 4), (880, 16), (910, 5), (950, 0),
     (3650, 0), (3700, 4), (3750, 0), (7300, 0)],
    [(200, 0), (400, 3), (450, 0), (900, 0), (950, 6), (1000, 14), (1030, 6), (1060, 0),
     (4400, 0), (4450, 6), (4500, 0), (7300, 0)],
    [(200, 0), (1000, 0), (1100, 4), (1150, 6), (1200, 3), (1250, 12), (1280, 4), (1320, 8),
     (1360, 2), (1400, 6), (1435, 10), (1470, 4), (1500, 12), (1530, 3), (1600, 0), (3600, 0),
     (3700, 4), (3800, 8), (3850, 3), (3900, 0), (4200, 0), (4260, 9), (4300, 2), (4350, 0),
     (7300, 0)],
    [(200, 0), (600, 0), (650, 6), (700, 2), (750, 0), (3550, 0), (3600, 5), (3650, 0),
     (4050, 0), (4100, 7), (4150, 0), (7300, 0)],
    [(200, 0), (300, 4), (350, 2), (400, 5), (450, 0), (500, 3), (550, 1), (650, 4), (700, 0),
     (1200, 0), (1250, 3), (1300, 0), (3600, 0), (3650, 8), (3700, 3), (3750, 6), (3800, 0),
     (4000, 0), (4050, 4), (4100, 0), (4600, 0), (4650, 3), (4700, 0), (4900, 0), (4950, 4),
     (5000, 2), (5050, 5), (5100, 1), (5150, 3), (5200, 0), (7300, 0)],
    [(200, 10), (230, 8), (260, 10), (300, 6), (330, 8), (360, 9), (400, 6), (450, 3),
     (500, 7), (550, 4), (600, 2), (650, 5), (700, 3), (800, 4), (900, 2), (1000, 3),
     (1100, 1), (1200, 0), (3550, 0), (3600, 4), (3700, 8), (3750, 4), (3800, 6), (3900, 2),
     (4000, 5), (4100, 8), (4200, 3), (4300, 5), (4350, 0), (7300, 0)],
    [(200, 0), (900, 0), (950, 4), (1000, 0), (4250, 0), (4280, 22), (4310, 8), (4340, 0),
     (4400, 0), (4430, 18), (4460, 4), (4500, 0), (4780, 0), (4810, 14), (4840, 3), (4870, 0),
     (7300, 0)],
    [(200, 0), (7300, 0)],
]

# genome map above panel a (nucleotide positions)
region_names = ['P1', 'P2', 'P3']
region_edges = [582, 3459, 5004, 7191]
domain_names = ['CAPSID', 'NON-CAPSID']
domain_spans = [(606, 3447), (3471, 7155)]

assert all(len(v) == len(positions_a) for v in similarity)

# long-form tables for seaborn
df_a = pd.DataFrame([(s, x, v) for s, vals in zip(strains, similarity)
                     for x, v in zip(positions_a, vals)],
                    columns=['strain', 'position', 'similarity'])
df_b = pd.DataFrame([(s, x, v) for s, pts in zip(strains, permuted) for x, v in pts],
                    columns=['strain', 'position', 'permuted'])
palette = dict(zip(strains, colors))

sns.set_style('white')
plt.rcParams['font.family'] = ['Liberation Sans', 'DejaVu Sans']
LABEL_FONT = ['Open Sans', 'DejaVu Sans']

W, H = 962, 845
fig = plt.figure(figsize=(W / 100, H / 100), dpi=100)


def frac(left, top, right, bottom):
    return [left / W, 1 - bottom / H, (right - left) / W, (bottom - top) / H]


ax_a = fig.add_axes(frac(86, 63, 717, 401))
ax_b = fig.add_axes(frac(85, 467, 718, 803))
ax_m = fig.add_axes(frac(86, 5, 717, 58))

sns.lineplot(data=df_a, x='position', y='similarity', hue='strain', hue_order=strains,
             palette=palette, estimator=None, sort=False, legend=False, linewidth=1.0, ax=ax_a)
sns.lineplot(data=df_b, x='position', y='permuted', hue='strain', hue_order=strains,
             palette=palette, estimator=None, sort=False, legend=False, linewidth=1.0, ax=ax_b)

thousands = FuncFormatter(lambda v, p: f"{int(v):,}".replace(',', '.'))

for ax in (ax_a, ax_b):
    ax.set_xlim(0, 7500)
    ax.xaxis.set_major_locator(MultipleLocator(500))
    ax.xaxis.set_minor_locator(MultipleLocator(100))
    ax.xaxis.set_major_formatter(thousands)
    ax.tick_params(axis='x', which='major', direction='out', length=3, width=0.8,
                   labelsize=6.3, colors='#333333', pad=3, bottom=True)
    ax.tick_params(axis='x', which='minor', direction='out', length=2, width=0.6,
                   colors='#555555', bottom=True)
    ax.tick_params(axis='y', which='major', direction='out', length=6, width=1.0,
                   colors='#333333', left=True)
    ax.tick_params(axis='y', which='minor', direction='out', length=2, width=0.6,
                   colors='#555555', left=True)
    for side in ('left', 'bottom'):
        ax.spines[side].set_color('#333333')
        ax.spines[side].set_linewidth(1.5)
    for side in ('top', 'right'):
        ax.spines[side].set_color('#707070')
        ax.spines[side].set_linewidth(0.9)
    ax.set_xlabel('Nucleotide positions', family=LABEL_FONT, fontsize=10, color='#222222')

ax_a.set_ylim(0.5, 1.0)
ax_a.yaxis.set_major_locator(MultipleLocator(0.1))
ax_a.yaxis.set_minor_locator(MultipleLocator(0.01))
ax_a.yaxis.set_major_formatter(FuncFormatter(lambda v, p: f"{v:g}"))
ax_a.tick_params(axis='y', labelsize=7.2)
ax_a.set_ylabel('Similarity', family=LABEL_FONT, fontsize=10, color='#222222')
ax_a.xaxis.set_label_coords(0.45, -0.065)
ax_a.yaxis.set_label_coords(-0.063, 0.5)

ax_b.set_ylim(-2.2, 103.1)
ax_b.yaxis.set_major_locator(MultipleLocator(5))
ax_b.yaxis.set_major_formatter(FuncFormatter(lambda v, p: f"{int(round(v))}"))
ax_b.tick_params(axis='y', labelsize=5.6, length=3)
ax_b.set_ylabel('% of permuted trees', family=LABEL_FONT, fontsize=10, color='#222222')
ax_b.xaxis.set_label_coords(0.461, -0.065)
ax_b.yaxis.set_label_coords(-0.057, 0.485)

# genome organisation bar
ax_m.set_xlim(0, 7500)
ax_m.set_ylim(58, 5)
ax_m.axis('off')
ink = '#404040'
ax_m.add_patch(Rectangle((region_edges[0], 41), region_edges[-1] - region_edges[0], 12,
                         facecolor='white', edgecolor=ink, linewidth=0.9, clip_on=False))
ax_m.vlines(region_edges[1:-1], 41, 53, color=ink, linewidth=0.9)
for name, lo, hi in zip(region_names, region_edges[:-1], region_edges[1:]):
    ax_m.text((lo + hi) / 2, 47.5, name, ha='center', va='center', fontsize=8,
              family=LABEL_FONT, color='#222222')
for name, (lo, hi) in zip(domain_names, domain_spans):
    ax_m.annotate('', xy=(hi, 25), xytext=(lo, 25),
                  arrowprops=dict(arrowstyle='<->', color=ink, lw=0.9,
                                  shrinkA=0, shrinkB=0, mutation_scale=8))
    ax_m.text((lo + hi) / 2, 14, name, ha='center', va='center', fontsize=8,
              family=LABEL_FONT, color='#222222')
ax_m.plot([71, region_edges[0]], [47, 47], color=ink, linewidth=0.9, clip_on=False)
ax_m.plot([region_edges[-1], 7274], [50, 50], color=ink, linewidth=0.9, clip_on=False)
ax_m.text(273, 38, '5’UTR', ha='center', va='center', fontsize=8, family=LABEL_FONT,
          color='#222222', clip_on=False)
ax_m.text(7215, 41, '3’UTR', ha='left', va='center', fontsize=8, family=LABEL_FONT,
          color='#222222', clip_on=False)

# panel letters
fig.text(20 / W, 1 - 73 / H, 'a', fontsize=22, family=LABEL_FONT, ha='center', va='center')
fig.text(22 / W, 1 - 468 / H, 'b', fontsize=22, family=LABEL_FONT, ha='center', va='center')

# legend box on the right
handles = [Line2D([0], [0], color=palette[s], linewidth=1.5) for s in strains]
leg = fig.legend(handles, strains, loc='upper left', bbox_to_anchor=(733 / W, 1 - 62 / H),
                 frameon=True, fancybox=False, fontsize=6.95, handlelength=6.0,
                 handletextpad=0.2, labelspacing=0.265, borderpad=0.3, borderaxespad=0)
leg.get_frame().set_edgecolor('#333333')
leg.get_frame().set_linewidth(0.9)
for t in leg.get_texts():
    t.set_color('#222222')

fig.savefig('out.png', dpi=100, facecolor='white')
